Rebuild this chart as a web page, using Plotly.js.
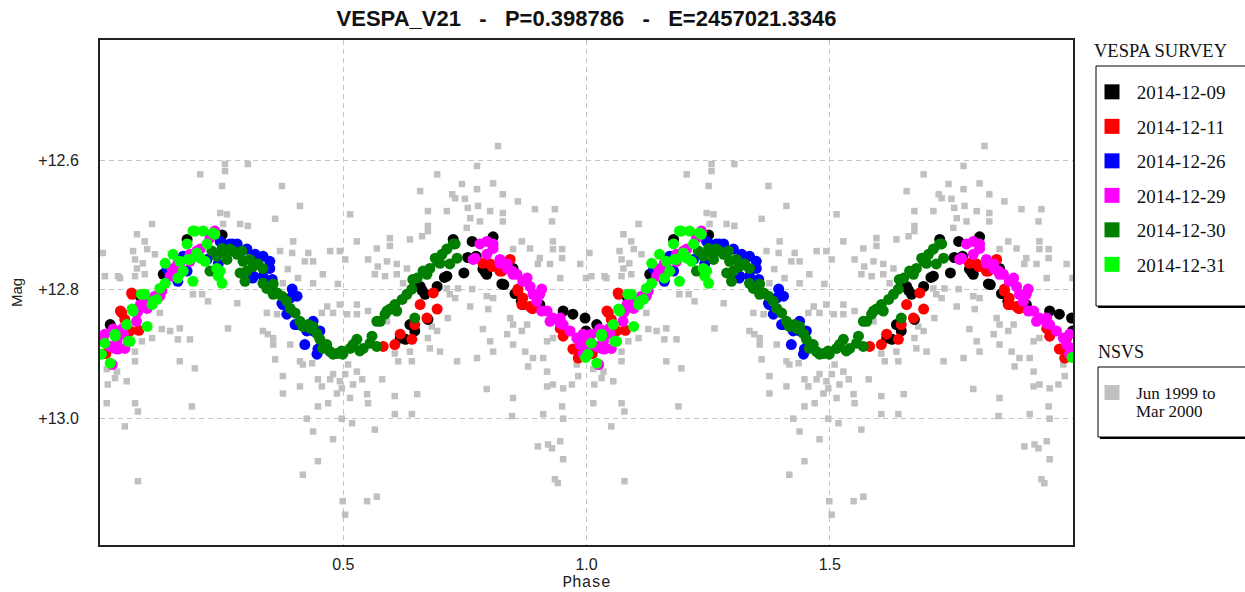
<!DOCTYPE html>
<html>
<head>
<meta charset="utf-8">
<script src="https://cdn.plot.ly/plotly-3.0.1.min.js"></script>
<style>html,body{margin:0;padding:0;background:#fff;}#chart{width:1245px;height:592px;}</style>
</head>
<body>
<div id="chart"></div>
<script>
// ---- data: [phase, magnitude] (phase 0..1, plotted twice) ----
const seriesNames = ['2014-12-09','2014-12-11','2014-12-26','2014-12-29','2014-12-30','2014-12-31'];
const seriesColors = ['#000000','#ff0000','#0000ff','#ff00ff','#007f00','#00ff00'];

const d1209 = [[0.021,12.854],[0.082,12.810],[0.130,12.776],[0.179,12.722],[0.251,12.715],[0.617,12.875],[0.637,12.854],[0.647,12.864],[0.658,12.795],[0.668,12.807],[0.674,12.846],[0.693,12.795],[0.713,12.779],[0.726,12.722],[0.748,12.774],[0.756,12.750],[0.765,12.725],[0.787,12.768],[0.795,12.776],[0.808,12.718],[0.826,12.791],[0.849,12.767],[0.869,12.823],[0.904,12.823],[0.952,12.833],[0.972,12.838],[0.997,12.844],[0.999,12.864],[0.628,12.877],[0.662,12.801],[0.708,12.781],[0.773,12.748],[0.792,12.773],[0.830,12.792],[0.853,12.806],[0.866,12.818]];
const d1211 = [[0.012,12.899],[0.045,12.836],[0.051,12.846],[0.080,12.863],[0.062,12.864],[0.066,12.807],[0.042,12.833],[0.065,12.805],[0.582,12.888],[0.606,12.885],[0.617,12.869],[0.641,12.877],[0.647,12.854],[0.658,12.823],[0.672,12.844],[0.685,12.805],[0.693,12.830],[0.787,12.759],[0.802,12.760],[0.826,12.771],[0.843,12.753],[0.859,12.802],[0.869,12.813],[0.884,12.826],[0.890,12.829],[0.946,12.860],[0.952,12.872],[0.976,12.892],[0.983,12.906],[0.806,12.764],[0.822,12.771],[0.859,12.799],[0.867,12.823],[0.888,12.829],[0.972,12.892],[0.987,12.875]];
const d1226 = [[0.138,12.768],[0.144,12.771],[0.160,12.787],[0.171,12.748],[0.179,12.771],[0.220,12.753],[0.243,12.760],[0.247,12.725],[0.251,12.728],[0.267,12.729],[0.273,12.729],[0.282,12.729],[0.302,12.737],[0.319,12.745],[0.325,12.753],[0.335,12.748],[0.349,12.756],[0.349,12.767],[0.314,12.782],[0.315,12.779],[0.335,12.779],[0.354,12.784],[0.374,12.821],[0.376,12.823],[0.395,12.799],[0.405,12.810],[0.391,12.813],[0.384,12.838],[0.401,12.854],[0.405,12.854],[0.425,12.864],[0.421,12.885],[0.438,12.849],[0.438,12.864],[0.446,12.900],[0.448,12.892],[0.452,12.864]];
const d1229 = [[0.002,12.875],[0.006,12.875],[0.010,12.869],[0.021,12.888],[0.025,12.916],[0.027,12.861],[0.031,12.891],[0.035,12.880],[0.037,12.892],[0.047,12.860],[0.048,12.869],[0.051,12.891],[0.075,12.849],[0.076,12.836],[0.078,12.833],[0.083,12.823],[0.086,12.826],[0.092,12.813],[0.097,12.829],[0.113,12.810],[0.123,12.810],[0.127,12.802],[0.144,12.779],[0.148,12.768],[0.160,12.759],[0.164,12.774],[0.164,12.764],[0.185,12.745],[0.185,12.756],[0.199,12.740],[0.206,12.737],[0.226,12.720],[0.236,12.709],[0.236,12.712],[0.767,12.753],[0.771,12.751],[0.781,12.729],[0.795,12.725],[0.795,12.745],[0.808,12.736],[0.808,12.729],[0.822,12.753],[0.822,12.759],[0.837,12.760],[0.837,12.767],[0.847,12.771],[0.849,12.776],[0.857,12.776],[0.869,12.787],[0.878,12.782],[0.884,12.795],[0.890,12.807],[0.898,12.818],[0.904,12.807],[0.908,12.799],[0.908,12.833],[0.919,12.833],[0.925,12.849],[0.931,12.844],[0.946,12.844],[0.946,12.852],[0.952,12.854],[0.966,12.864],[0.980,12.875],[0.987,12.885],[0.993,12.869],[0.993,12.900],[0.999,12.891]];
const d1230 = [[0.226,12.771],[0.230,12.740],[0.240,12.748],[0.240,12.774],[0.251,12.736],[0.253,12.740],[0.261,12.753],[0.267,12.737],[0.273,12.740],[0.282,12.745],[0.288,12.774],[0.292,12.740],[0.294,12.756],[0.298,12.787],[0.302,12.771],[0.308,12.753],[0.314,12.764],[0.323,12.760],[0.325,12.760],[0.335,12.767],[0.335,12.790],[0.343,12.798],[0.356,12.791],[0.356,12.807],[0.364,12.805],[0.374,12.810],[0.384,12.818],[0.391,12.829],[0.401,12.836],[0.411,12.849],[0.417,12.857],[0.428,12.854],[0.432,12.860],[0.438,12.857],[0.446,12.868],[0.452,12.877],[0.458,12.891],[0.466,12.885],[0.473,12.896],[0.479,12.900],[0.487,12.899],[0.497,12.895],[0.499,12.900],[0.514,12.891],[0.520,12.885],[0.528,12.877],[0.534,12.895],[0.541,12.891],[0.555,12.883],[0.559,12.872],[0.569,12.888],[0.569,12.849],[0.576,12.849],[0.586,12.838],[0.590,12.833],[0.596,12.830],[0.606,12.823],[0.610,12.833],[0.621,12.815],[0.631,12.807],[0.641,12.799],[0.643,12.784],[0.647,12.844],[0.652,12.782],[0.664,12.771],[0.672,12.776],[0.678,12.767],[0.689,12.751],[0.693,12.756],[0.699,12.759],[0.703,12.745],[0.713,12.737],[0.719,12.760],[0.726,12.729],[0.730,12.729],[0.734,12.751]];
const d1231 = [[0.003,12.900],[0.010,12.883],[0.021,12.914],[0.031,12.869],[0.031,12.872],[0.055,12.854],[0.058,12.880],[0.062,12.880],[0.066,12.830],[0.068,12.833],[0.085,12.807],[0.092,12.807],[0.097,12.857],[0.107,12.823],[0.109,12.818],[0.117,12.815],[0.123,12.798],[0.134,12.790],[0.134,12.759],[0.150,12.745],[0.160,12.782],[0.164,12.756],[0.171,12.771],[0.179,12.729],[0.181,12.753],[0.185,12.753],[0.191,12.787],[0.191,12.709],[0.195,12.709],[0.199,12.743],[0.206,12.751],[0.212,12.709],[0.216,12.756],[0.220,12.729],[0.232,12.712],[0.236,12.714],[0.240,12.767],[0.243,12.779],[0.247,12.771],[0.251,12.790],[0.998,12.905]];

const nsvsData = [[0.257,12.605],[0.304,12.605],[0.257,12.616],[0.206,12.621],[0.251,12.639],[0.374,12.639],[0.411,12.670],[0.247,12.681],[0.261,12.683],[0.360,12.690],[0.107,12.698],[0.288,12.698],[0.304,12.701],[0.253,12.698],[0.076,12.714],[0.397,12.725],[0.092,12.725],[0.068,12.740],[0.097,12.737],[0.006,12.743],[0.370,12.740],[0.395,12.743],[0.428,12.743],[0.473,12.740],[0.493,12.740],[0.421,12.756],[0.438,12.756],[0.088,12.759],[0.072,12.753],[0.010,12.779],[0.041,12.782],[0.092,12.776],[0.407,12.782],[0.438,12.790],[0.458,12.776],[0.489,12.791],[0.386,12.768],[0.376,12.790],[0.210,12.807],[0.191,12.807],[0.222,12.818],[0.282,12.821],[0.343,12.836],[0.364,12.838],[0.467,12.826],[0.493,12.823],[0.456,12.836],[0.479,12.836],[0.263,12.860],[0.164,12.860],[0.127,12.861],[0.144,12.864],[0.107,12.875],[0.086,12.880],[0.160,12.877],[0.185,12.877],[0.335,12.864],[0.345,12.869],[0.356,12.875],[0.356,12.885],[0.391,12.885],[0.411,12.911],[0.417,12.916],[0.436,12.914],[0.360,12.908],[0.164,12.911],[0.195,12.922],[0.072,12.896],[0.072,12.911],[0.014,12.923],[0.035,12.927],[0.031,12.937],[0.055,12.942],[0.016,12.947],[0.376,12.934],[0.376,12.961],[0.411,12.950],[0.448,12.939],[0.456,12.950],[0.473,12.939],[0.479,12.931],[0.493,12.942],[0.497,12.953],[0.487,12.961],[0.189,12.981],[0.448,12.981],[0.469,12.976],[0.014,12.976],[0.072,12.976],[0.078,12.989],[0.425,13.000],[0.497,13.000],[0.051,13.012],[0.438,13.020],[0.479,13.032],[0.448,13.066],[0.417,13.087],[0.078,13.097],[0.504,13.149],[0.113,12.745],[0.037,12.779],[0.072,12.779],[0.076,12.767],[0.123,12.836],
[0.818,12.577],[0.775,12.608],[0.693,12.621],[0.808,12.635],[0.744,12.636],[0.658,12.647],[0.775,12.644],[0.828,12.652],[0.724,12.652],[0.730,12.658],[0.750,12.659],[0.859,12.663],[0.514,12.683],[0.674,12.678],[0.713,12.678],[0.756,12.673],[0.777,12.670],[0.802,12.678],[0.828,12.681],[0.894,12.675],[0.935,12.675],[0.761,12.689],[0.781,12.694],[0.828,12.694],[0.674,12.701],[0.929,12.694],[0.674,12.709],[0.754,12.704],[0.596,12.720],[0.637,12.722],[0.662,12.717],[0.528,12.725],[0.867,12.725],[0.931,12.725],[0.569,12.736],[0.596,12.732],[0.849,12.737],[0.884,12.736],[0.904,12.751],[0.931,12.737],[0.950,12.737],[0.950,12.751],[0.551,12.753],[0.571,12.764],[0.590,12.756],[0.610,12.760],[0.631,12.767],[0.900,12.760],[0.925,12.760],[0.946,12.782],[0.987,12.760],[0.999,12.782],[0.504,12.753],[0.565,12.776],[0.586,12.779],[0.610,12.776],[0.623,12.790],[0.713,12.798],[0.719,12.807],[0.730,12.813],[0.736,12.798],[0.765,12.799],[0.795,12.810],[0.808,12.813],[0.798,12.830],[0.761,12.826],[0.528,12.823],[0.508,12.838],[0.528,12.838],[0.551,12.833],[0.590,12.849],[0.682,12.857],[0.693,12.864],[0.674,12.875],[0.715,12.844],[0.787,12.861],[0.843,12.844],[0.849,12.854],[0.878,12.854],[0.867,12.864],[0.919,12.880],[0.931,12.875],[0.837,12.869],[0.849,12.885],[0.874,12.896],[0.890,12.906],[0.911,12.906],[0.802,12.880],[0.808,12.896],[0.775,12.906],[0.734,12.911],[0.699,12.896],[0.678,12.891],[0.606,12.899],[0.613,12.911],[0.637,12.896],[0.641,12.911],[0.510,12.916],[0.528,12.927],[0.539,12.939],[0.520,12.947],[0.504,12.931],[0.580,12.939],[0.549,12.962],[0.551,12.976],[0.514,12.968],[0.606,12.965],[0.652,12.962],[0.795,12.954],[0.849,12.968],[0.880,12.919],[0.919,12.927],[0.931,12.947],[0.919,12.950],[0.952,12.953],[0.980,12.916],[0.983,12.934],[0.970,12.947],[0.847,12.996],[0.911,12.993],[0.950,12.981],[0.952,13.000],[0.606,12.993],[0.641,12.993],[0.565,13.017],[0.518,13.007],[0.900,13.043],[0.921,13.040],[0.946,13.035],[0.929,13.046],[0.952,13.063],[0.935,13.094],[0.941,13.100],[0.569,13.121],[0.549,13.128],[0.499,13.128]];

const nsvsLabelLines = ['Jun 1999 to', 'Mar 2000'];
const xTickVals = [0.5, 1.0, 1.5];
const xTickText = ['0.5', '1.0', '1.5'];
const yTickVals = [12.6, 12.8, 13.0];
const yTickText = ['+12.6', '+12.8', '+13.0'];

// ---- helpers ----
function twoCycles(data) {
  const x = [], y = [];
  data.forEach(p => { x.push(p[0]); y.push(p[1]); });
  data.forEach(p => { x.push(p[0] + 1); y.push(p[1]); });
  return {x, y};
}

const traces = [];
const g = twoCycles(nsvsData);
traces.push({type:'scatter', mode:'markers', x:g.x, y:g.y, showlegend:false, hoverinfo:'skip',
  marker:{symbol:'square', size:6.5, color:'#c0c0c0'}});
const vespaData = [d1209, d1211, d1226, d1229, d1230, d1231];
vespaData.forEach((d, i) => {
  const c = twoCycles(d);
  traces.push({type:'scatter', mode:'markers', x:c.x, y:c.y, showlegend:false, hoverinfo:'skip',
    marker:{symbol:'circle', size:11, color:seriesColors[i], line:{width:0}}});
});
// legend entries (square swatches like the reference)
seriesNames.forEach((n, i) => {
  traces.push({type:'scatter', mode:'markers', x:[null], y:[null], name:'\u00a0' + n, legend:'legend', legendgroup:'g'+i,
    marker:{symbol:'square', size:15, color:seriesColors[i]}});
});
traces.push({type:'scatter', mode:'markers', x:[null], y:[null], name:'\u00a0' + nsvsLabelLines[0], legend:'legend2',
  marker:{symbol:'square', size:15, color:'#c0c0c0'}});

// ---- geometry helpers for paper coords ----
const W = 1245, H = 592, L = 100, R = 172, T = 40, B = 47;
const PW = W - L - R, PH = H - T - B;
const px = v => (v - L) / PW;
const py = v => (H - B - v) / PH;

const shapes = [
  {type:'rect', xref:'paper', yref:'paper', x0:px(1098), x1:px(1252), y0:py(308), y1:py(68), fillcolor:'#000', line:{width:0}},
  {type:'rect', xref:'paper', yref:'paper', x0:px(1096), x1:px(1250), y0:py(306), y1:py(66), fillcolor:'#fff', line:{color:'#000', width:1}},
  {type:'rect', xref:'paper', yref:'paper', x0:px(1100), x1:px(1252), y0:py(439), y1:py(369), fillcolor:'#000', line:{width:0}},
  {type:'rect', xref:'paper', yref:'paper', x0:px(1098), x1:px(1250), y0:py(437), y1:py(367), fillcolor:'#fff', line:{color:'#000', width:1}}
];

const serif = 'Liberation Serif, Times New Roman, serif';
const layout = {
  width: W, height: H,
  margin: {l:L, r:R, t:T, b:B, pad:0},
  paper_bgcolor:'#fff', plot_bgcolor:'#fff',
  showlegend: true,
  title: {text:'VESPA_V21\u00a0\u00a0\u00a0-\u00a0\u00a0\u00a0P=0.398786\u00a0\u00a0\u00a0-\u00a0\u00a0\u00a0E=2457021.3346',
    font:{family:'Liberation Sans, Arial, sans-serif', size:22, color:'#111', weight:'bold'},
    xref:'paper', x:0.5, xanchor:'center', yref:'container', y:1 - 18/H, yanchor:'middle'},
  xaxis: {range:[0, 2], tickvals:xTickVals, ticktext:xTickText, ticks:'', showline:true, mirror:true,
    linecolor:'#222', linewidth:2, showgrid:true, gridcolor:'#c4c4c4', griddash:'5px,4px', gridwidth:1,
    zeroline:false, ticklabelstandoff:4,
    tickfont:{family:'Liberation Sans, Arial, sans-serif', size:16, color:'#222'},
    title:{text:'Phase', font:{family:'Liberation Mono, Courier New, monospace', size:16, color:'#222'}, standoff:6},
    automargin:false},
  yaxis: {range:[13.196, 12.4126], tickvals:yTickVals, ticktext:yTickText, ticks:'', showline:true, mirror:true,
    linecolor:'#222', linewidth:2, showgrid:true, gridcolor:'#c4c4c4', griddash:'5px,4px', gridwidth:1,
    zeroline:false, ticklabelstandoff:16,
    tickfont:{family:'Liberation Sans, Arial, sans-serif', size:16, color:'#222'},
    title:{text:'Mag', font:{family:'Liberation Sans, Arial, sans-serif', size:15, color:'#222'}, standoff:12},
    automargin:false},
  legend: {x:px(1092), y:py(73), xanchor:'left', yanchor:'top', xref:'paper', yref:'paper',
    bgcolor:'rgba(0,0,0,0)', borderwidth:0, font:{family:serif, size:19, color:'#111'},
    traceorder:'grouped', tracegroupgap:6.8, itemclick:false, itemdoubleclick:false},
  legend2: {x:px(1092), y:py(375), xanchor:'left', yanchor:'top', xref:'paper', yref:'paper',
    bgcolor:'rgba(0,0,0,0)', borderwidth:0, font:{family:serif, size:17, color:'#111'},
    itemclick:false, itemdoubleclick:false},
  shapes: shapes,
  annotations: [
    {text:'VESPA SURVEY', xref:'paper', yref:'paper', x:px(1092), y:py(51), xanchor:'left', yanchor:'middle',
      showarrow:false, font:{family:serif, size:18.5, color:'#111'}},
    {text:'NSVS', xref:'paper', yref:'paper', x:px(1096), y:py(352), xanchor:'left', yanchor:'middle',
      showarrow:false, font:{family:serif, size:18, color:'#111'}},
    {text:nsvsLabelLines[1], xref:'paper', yref:'paper', x:px(1135), y:py(411), xanchor:'left', yanchor:'middle',
      showarrow:false, borderpad:0, font:{family:serif, size:17, color:'#111'}}
  ]
};

Plotly.newPlot('chart', traces, layout, {staticPlot:true, displayModeBar:false});
</script>
</body>
</html>
